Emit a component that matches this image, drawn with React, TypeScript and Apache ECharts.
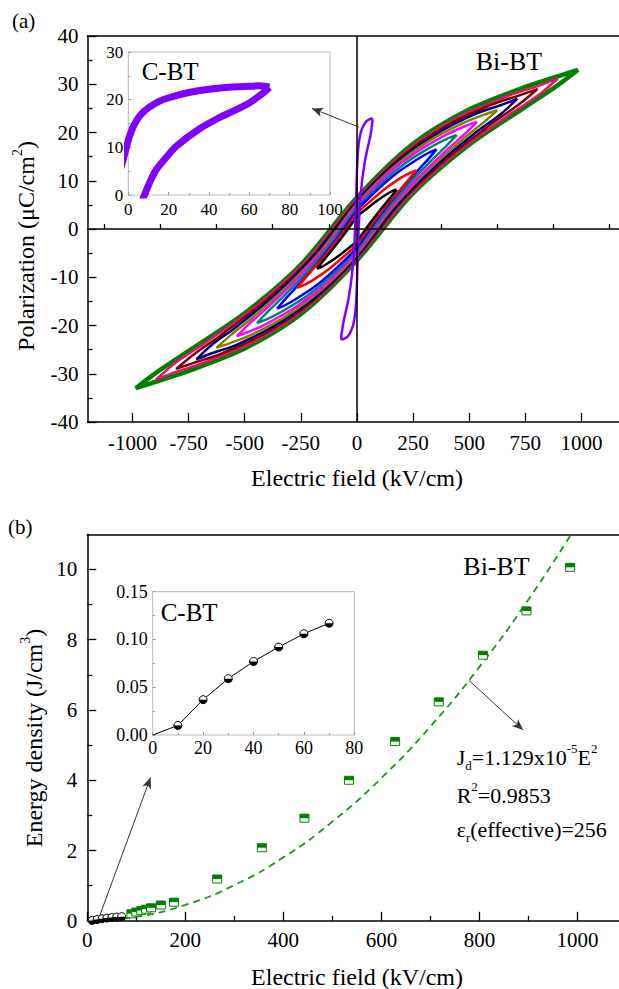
import React, { useEffect, useRef } from "react";
import * as echarts from "echarts";

const FONT = '"Liberation Serif", "Times New Roman", serif';

// ---------- Panel (a): P-E loops (E in kV/cm, P in uC/cm2) ----------
const A_X_TICKS = [-1000, -750, -500, -250, 0, 250, 500, 750, 1000];
const A_X_MINOR = [-1125, -875, -625, -375, -125, 125, 375, 625, 875, 1125];

const LOOP_BLACK: number[][] = [
  [177, 8.2], [159, 7.9], [133, 7.2], [88, 5.8], [44, 4.2], [0, 2.5], [-44, -0.3], [-88, -3.0], [-133, -5.6], [-159, -7.1], [-177, -8.2],
  [-159, -7.9], [-133, -7.2], [-88, -5.8], [-44, -4.2], [0, -2.5], [44, 0.3], [88, 3.0], [133, 5.6], [159, 7.1], [177, 8.2],
];
const LOOP_RED: number[][] = [
  [265, 12.2], [239, 11.7], [199, 10.7], [133, 8.6], [66, 6.0], [0, 3.2], [-66, -1.0], [-133, -5.0], [-199, -8.5], [-239, -10.7], [-265, -12.2],
  [-239, -11.7], [-199, -10.7], [-133, -8.6], [-66, -6.0], [0, -3.2], [66, 1.0], [133, 5.0], [199, 8.5], [239, 10.7], [265, 12.2],
];
const LOOP_BLUE: number[][] = [
  [355, 16.5], [320, 15.8], [266, 14.35], [178, 11.6], [89, 8.0], [0, 3.8], [-89, -2.0], [-178, -7.2], [-266, -11.85], [-320, -14.6], [-355, -16.5],
  [-320, -15.8], [-266, -14.35], [-178, -11.6], [-89, -8.0], [0, -3.8], [89, 2.0], [178, 7.2], [266, 11.85], [320, 14.6], [355, 16.5],
];
const LOOP_TEAL: number[][] = [
  [445, 19.5], [400, 18.7], [334, 17.1], [223, 13.9], [111, 9.6], [0, 4.3], [-111, -2.7], [-223, -8.9], [-334, -14.3], [-400, -17.3], [-445, -19.5],
  [-400, -18.7], [-334, -17.1], [-223, -13.9], [-111, -9.6], [0, -4.3], [111, 2.7], [223, 8.9], [334, 14.3], [400, 17.3], [445, 19.5],
];
const LOOP_MAGENTA: number[][] = [
  [535, 22.2], [481, 21.3], [401, 19.6], [268, 16.0], [134, 11.2], [0, 4.8], [-134, -3.5], [-268, -10.4], [-401, -16.4], [-481, -19.7], [-535, -22.2],
  [-481, -21.3], [-401, -19.6], [-268, -16.0], [-134, -11.2], [0, -4.8], [134, 3.5], [268, 10.4], [401, 16.4], [481, 19.7], [535, 22.2],
];
const LOOP_OLIVE: number[][] = [
  [625, 24.6], [562, 23.6], [469, 21.9], [313, 18.0], [156, 12.5], [0, 5.2], [-156, -4.3], [-313, -12.0], [-469, -18.5], [-562, -22.0], [-625, -24.6],
  [-562, -23.6], [-469, -21.9], [-313, -18.0], [-156, -12.5], [0, -5.2], [156, 4.3], [313, 12.0], [469, 18.5], [562, 22.0], [625, 24.6],
];
const LOOP_NAVY: number[][] = [
  [715, 27], [643, 25.7], [536, 24.0], [358, 19.8], [179, 13.85], [0, 5.6], [-179, -4.95], [-358, -13.4], [-536, -20.25], [-643, -23.9], [-715, -27],
  [-643, -25.7], [-536, -24.0], [-358, -19.8], [-179, -13.85], [0, -5.6], [179, 4.95], [358, 13.4], [536, 20.25], [643, 23.9], [715, 27],
];
const LOOP_WINE: number[][] = [
  [805, 29], [724, 27.7], [604, 25.85], [403, 21.5], [201, 15.1], [0, 5.9], [-201, -5.8], [-403, -14.7], [-604, -21.95], [-724, -25.9], [-805, -29],
  [-724, -27.7], [-604, -25.85], [-403, -21.5], [-201, -15.1], [0, -5.9], [201, 5.8], [403, 14.7], [604, 21.95], [724, 25.9], [805, 29],
];
const LOOP_PINK: number[][] = [
  [895, 31.2], [805, 29.6], [671, 27.55], [448, 23.1], [224, 16.3], [0, 6.2], [-224, -6.5], [-448, -15.95], [-671, -23.45], [-805, -27.6], [-895, -31.2],
  [-805, -29.6], [-671, -27.55], [-448, -23.1], [-224, -16.3], [0, -6.2], [224, 6.5], [448, 15.95], [671, 23.45], [805, 27.6], [895, 31.2],
];
const LOOP_GREEN: number[][] = [
  [985, 33], [886, 31.5], [739, 29.25], [493, 24.6], [246, 17.5], [0, 6.5], [-246, -7.2], [-493, -17.2], [-739, -24.95], [-886, -29.5], [-985, -33],
  [-886, -31.5], [-739, -29.25], [-493, -24.6], [-246, -17.5], [0, -6.5], [246, 7.2], [493, 17.2], [739, 24.95], [886, 29.5], [985, 33],
];

const BIBT_LOOPS = [
  { data: LOOP_GREEN, color: "#008000", width: 4.5 },
  { data: LOOP_PINK, color: "#e8106e", width: 2.5 },
  { data: LOOP_WINE, color: "#800000", width: 2.5 },
  { data: LOOP_NAVY, color: "#000080", width: 2.5 },
  { data: LOOP_OLIVE, color: "#808000", width: 2.5 },
  { data: LOOP_MAGENTA, color: "#ff00ff", width: 2.5 },
  { data: LOOP_TEAL, color: "#008080", width: 2.5 },
  { data: LOOP_BLUE, color: "#0000ff", width: 2.5 },
  { data: LOOP_RED, color: "#ff0000", width: 2.5 },
  { data: LOOP_BLACK, color: "#000000", width: 2.5 },
];

const CBT_LOOP: number[][] = [
  [70, 22.6], [65, 22.9], [60, 22.8], [50, 22.6], [40, 22.2], [30, 21.5], [20, 20.4], [15, 19.6], [10, 18.3],
  [6, 16.8], [3, 14.8], [1, 12.8], [0, 11.5], [-2, 8.3], [-4, 5.2], [-6, 2.4], [-8, 0], [-11, -3], [-14, -5.4],
  [-19, -8], [-24, -10.3], [-35, -13.8], [-45, -16.2], [-52, -17.6], [-60, -19.3], [-65, -20.8], [-70, -22.6],
  [-65, -22.9], [-60, -22.8], [-50, -22.6], [-40, -22.2], [-30, -21.5], [-20, -20.4], [-15, -19.6], [-10, -18.3],
  [-6, -16.8], [-3, -14.8], [-1, -12.8], [0, -11.5], [2, -8.3], [4, -5.2], [6, -2.4], [8, 0], [11, 3], [14, 5.4],
  [19, 8], [24, 10.3], [35, 13.8], [45, 16.2], [52, 17.6], [60, 19.3], [65, 20.8], [70, 22.6],
];

// ---------- Panel (b): energy density ----------
const B_X_TICKS = [0, 200, 400, 600, 800, 1000];
const B_X_MINOR = [100, 300, 500, 700, 900];
const B_Y_TICKS = [0, 2, 4, 6, 8, 10];
const B_Y_MINOR = [1, 3, 5, 7, 9];

const BIBT_E = [90, 100, 110, 120, 130, 150, 177, 265, 356, 443, 534, 628, 717, 807, 896, 985];
const BIBT_J = [0.2, 0.25, 0.29, 0.33, 0.37, 0.45, 0.53, 1.19, 2.08, 2.92, 4.0, 5.1, 6.23, 7.56, 8.82, 10.06];

const CBT_E = [10, 20, 30, 40, 50, 60, 70];
const CBT_J = [0.01, 0.037, 0.059, 0.077, 0.092, 0.106, 0.117];

const FIT_E = [0, 100, 200, 300, 400, 500, 600, 700, 800, 900, 987];
const FIT_J = [0, 0.113, 0.452, 1.016, 1.806, 2.823, 4.064, 5.532, 7.226, 9.145, 11.0];

const pairs = (xs: number[], ys: number[]) => xs.map((x, i) => [x, ys[i]]);

const halfCircle = (r: number) => (params: any, api: any) => {
  const p = api.coord([api.value(0), api.value(1)]);
  return {
    type: "group",
    children: [
      { type: "circle", shape: { cx: p[0], cy: p[1], r }, style: { fill: "#fff", stroke: "#000", lineWidth: 1 } },
      { type: "sector", shape: { cx: p[0], cy: p[1], r0: 0, r, startAngle: 0, endAngle: Math.PI }, style: { fill: "#000" } },
    ],
  };
};

const halfSquare = (w: number, h: number, color: string) => (params: any, api: any) => {
  const p = api.coord([api.value(0), api.value(1)]);
  return {
    type: "group",
    children: [
      { type: "rect", shape: { x: p[0] - w / 2, y: p[1] - h / 2, width: w, height: h }, style: { fill: "#fff", stroke: color, lineWidth: 1 } },
      { type: "rect", shape: { x: p[0] - w / 2, y: p[1] - h / 2, width: w, height: h / 2 }, style: { fill: color } },
    ],
  };
};

const plain = (v: number) => String(v);
const mainLabel = (margin: number) => ({ color: "#000", fontSize: 21, fontFamily: FONT, margin, formatter: plain });
const insetLabel = (size: number, margin: number) => ({ color: "#000", fontSize: size, fontFamily: FONT, margin, formatter: plain });
const blackLine = { show: true, onZero: false, lineStyle: { color: "#000", width: 1.5 } };

export default function App() {
  const ref = useRef<HTMLDivElement>(null);
  useEffect(() => {
    if (!ref.current) return;
    const chart = echarts.init(ref.current, undefined, { renderer: "svg", width: 619, height: 989 });

    const grids = [
      { left: 87.5, top: 36, width: 531.5, height: 386, outerBoundsMode: "none", containLabel: false },
      { left: 128.3, top: 52, width: 201.7, height: 143, show: true, backgroundColor: "#fff", borderColor: "#b8b8b8", borderWidth: 1, outerBoundsMode: "none", containLabel: false },
      { left: 87.3, top: 534.3, width: 531.7, height: 386.5, outerBoundsMode: "none", containLabel: false },
      { left: 152.7, top: 591.7, width: 201.6, height: 143.3, show: true, backgroundColor: "#fff", borderColor: "#b8b8b8", borderWidth: 1, outerBoundsMode: "none", containLabel: false },
    ];

    const insetTick = { show: true, inside: true, length: 3, lineStyle: { color: "#999" } };
    const insetMinor = { show: true, splitNumber: 2, length: 2, lineStyle: { color: "#999" } };

    const xAxis: any[] = [
      {
        type: "value", gridIndex: 0, position: "bottom", min: -1200, max: 1167.5,
        axisLine: blackLine, splitLine: { show: false },
        axisTick: { show: true, inside: true, length: 9, customValues: A_X_TICKS, lineStyle: { color: "#000", width: 1.3 } },
        axisLabel: { ...mainLabel(10), customValues: A_X_TICKS },
      },
      {
        type: "value", gridIndex: 0, position: "bottom", min: -1200, max: 1167.5,
        axisLine: { show: false }, splitLine: { show: false }, axisLabel: { show: false },
        axisTick: { show: true, inside: true, length: 5, customValues: A_X_MINOR, lineStyle: { color: "#000", width: 1.3 } },
      },
      {
        type: "value", gridIndex: 0, position: "top", min: -1200, max: 1167.5,
        axisLine: blackLine, splitLine: { show: false }, axisLabel: { show: false }, axisTick: { show: false },
      },
      {
        type: "value", gridIndex: 1, position: "bottom", min: 0, max: 100, interval: 20,
        axisLine: { show: false, onZero: false }, splitLine: { show: false },
        axisTick: insetTick, minorTick: insetMinor, axisLabel: insetLabel(17, 6),
      },
      {
        type: "value", gridIndex: 2, position: "bottom", min: 0, max: 1084.7,
        axisLine: blackLine, splitLine: { show: false },
        axisTick: { show: true, inside: true, length: 9, customValues: B_X_TICKS, lineStyle: { color: "#000", width: 1.3 } },
        axisLabel: { ...mainLabel(9), customValues: B_X_TICKS },
      },
      {
        type: "value", gridIndex: 2, position: "bottom", min: 0, max: 1084.7,
        axisLine: { show: false }, splitLine: { show: false }, axisLabel: { show: false },
        axisTick: { show: true, inside: true, length: 5, customValues: B_X_MINOR, lineStyle: { color: "#000", width: 1.3 } },
      },
      {
        type: "value", gridIndex: 2, position: "top", min: 0, max: 1084.7,
        axisLine: blackLine, splitLine: { show: false }, axisLabel: { show: false }, axisTick: { show: false },
      },
      {
        type: "value", gridIndex: 3, position: "bottom", min: 0, max: 80, interval: 20,
        axisLine: { show: false, onZero: false }, splitLine: { show: false },
        axisTick: insetTick, minorTick: insetMinor, axisLabel: insetLabel(18, 4),
      },
    ];

    const yAxis: any[] = [
      {
        type: "value", gridIndex: 0, position: "left", min: -40, max: 40, interval: 10,
        axisLine: blackLine, splitLine: { show: false },
        axisTick: { show: true, inside: true, length: 9, lineStyle: { color: "#000", width: 1.3 } },
        minorTick: { show: true, splitNumber: 2, length: 5, lineStyle: { color: "#000", width: 1.3 } },
        axisLabel: mainLabel(9),
      },
      {
        type: "value", gridIndex: 1, position: "left", min: 0, max: 30, interval: 10,
        axisLine: { show: false, onZero: false }, splitLine: { show: false },
        axisTick: insetTick, minorTick: insetMinor, axisLabel: insetLabel(17, 5),
      },
      {
        type: "value", gridIndex: 2, position: "left", min: 0, max: 11,
        axisLine: blackLine, splitLine: { show: false },
        axisTick: { show: true, inside: true, length: 9, customValues: B_Y_TICKS, lineStyle: { color: "#000", width: 1.3 } },
        axisLabel: { ...mainLabel(10), customValues: B_Y_TICKS },
      },
      {
        type: "value", gridIndex: 2, position: "left", min: 0, max: 11,
        axisLine: { show: false }, splitLine: { show: false }, axisLabel: { show: false },
        axisTick: { show: true, inside: true, length: 5, customValues: B_Y_MINOR, lineStyle: { color: "#000", width: 1.3 } },
      },
      {
        type: "value", gridIndex: 3, position: "left", min: 0, max: 0.15, interval: 0.05,
        axisLine: { show: false, onZero: false }, splitLine: { show: false },
        axisTick: insetTick, minorTick: insetMinor,
        axisLabel: { ...insetLabel(18, 5), formatter: (v: number) => v.toFixed(2) },
      },
    ];

    const series: any[] = [];

    BIBT_LOOPS.forEach((l, i) => {
      const s: any = {
        type: "line", xAxisIndex: 0, yAxisIndex: 0, data: l.data, smooth: 0.3,
        symbol: "none", lineStyle: { color: l.color, width: l.width }, z: 2 + i * 0.01,
        silent: true,
      };
      if (i === 0) {
        s.markLine = {
          silent: true, symbol: ["none", "none"], label: { show: false },
          lineStyle: { color: "#000", width: 1.5, type: "solid" },
          data: [{ xAxis: 0 }, { yAxis: 0 }],
        };
      }
      series.push(s);
    });

    series.push({
      type: "line", xAxisIndex: 0, yAxisIndex: 0, data: CBT_LOOP, smooth: 0.3,
      symbol: "none", lineStyle: { color: "#8000ff", width: 2.5 }, z: 4, silent: true,
      markLine: {
        silent: true, symbol: ["none", "arrow"], symbolSize: [7, 11], label: { show: false },
        lineStyle: { color: "#333", width: 1, type: "solid" },
        data: [[{ coord: [10, 21.1] }, { coord: [-200, 25] }]],
      },
    });

    series.push({
      type: "line", xAxisIndex: 3, yAxisIndex: 1, data: CBT_LOOP, smooth: 0.3, clip: true,
      symbol: "none", lineStyle: { color: "#8000ff", width: 7 }, z: 4, silent: true,
    });

    series.push({
      type: "line", xAxisIndex: 4, yAxisIndex: 2, data: pairs(FIT_E, FIT_J), smooth: true,
      symbol: "none", lineStyle: { color: "#1f951f", width: 1.8, type: [7, 5] }, z: 2, silent: true,
      markLine: {
        silent: true, symbol: ["none", "arrow"], symbolSize: [7, 11], label: { show: false },
        lineStyle: { color: "#333", width: 1, type: "solid" },
        data: [
          [{ coord: [26, 0.17] }, { coord: [129, 4.08] }],
          [{ coord: [778, 6.85] }, { coord: [889, 5.43] }],
        ],
      },
    });
    series.push({
      type: "line", xAxisIndex: 4, yAxisIndex: 2, data: pairs(CBT_E, CBT_J),
      symbol: "none", lineStyle: { color: "#000", width: 1 }, z: 3, silent: true,
    });
    series.push({
      type: "custom", xAxisIndex: 4, yAxisIndex: 2, data: pairs(CBT_E, CBT_J),
      encode: { x: 0, y: 1 }, renderItem: halfCircle(4), z: 4, silent: true,
    });
    series.push({
      type: "custom", xAxisIndex: 4, yAxisIndex: 2, data: pairs(BIBT_E, BIBT_J),
      encode: { x: 0, y: 1 }, renderItem: halfSquare(9, 8, "#008000"), z: 5, silent: true,
    });
    series.push({
      type: "line", xAxisIndex: 7, yAxisIndex: 4, data: [[0, 0], ...pairs(CBT_E, CBT_J)],
      symbol: "none", lineStyle: { color: "#000", width: 1 }, z: 3, silent: true,
    });
    series.push({
      type: "custom", xAxisIndex: 7, yAxisIndex: 4, data: pairs(CBT_E, CBT_J),
      encode: { x: 0, y: 1 }, renderItem: halfCircle(4), z: 4, silent: true,
    });

    const txt = (x: number, y: number, text: string, size: number, align = "left", extra: any = {}) => ({
      type: "text", x, y, z: 100,
      style: { text, fill: "#000", fontSize: size, fontFamily: FONT, align, verticalAlign: "middle", ...extra },
    });
    const richBase = (size: number) => ({
      n: { fontSize: size, fontFamily: FONT, fill: "#000", lineHeight: size + 8 },
      sup: { fontSize: Math.round(size * 0.6), fontFamily: FONT, fill: "#000", lineHeight: Math.round(size * 0.6), verticalAlign: "top" },
      sub: { fontSize: Math.round(size * 0.6), fontFamily: FONT, fill: "#000", lineHeight: Math.round(size * 0.6), verticalAlign: "bottom" },
    });

    const graphic: any[] = [
      txt(12, 21, "(a)", 21),
      txt(8, 527, "(b)", 21),
      txt(509, 61, "Bi-BT", 26, "center"),
      txt(141.7, 71.5, "C-BT", 25),
      txt(463.3, 566.7, "Bi-BT", 26),
      txt(160.7, 612, "C-BT", 25),
      txt(357, 478, "Electric field (kV/cm)", 24, "center"),
      txt(357, 977, "Electric field (kV/cm)", 24, "center"),
      {
        type: "text", x: 26, y: 246, rotation: Math.PI / 2, z: 100,
        style: { text: "{n|Polarization (μC/cm}{sup|2}{n|)}", rich: richBase(24), align: "center", verticalAlign: "middle" },
      },
      {
        type: "text", x: 34, y: 738, rotation: Math.PI / 2, z: 100,
        style: { text: "{n|Energy density (J/cm}{sup|3}{n|)}", rich: richBase(24), align: "center", verticalAlign: "middle" },
      },
      {
        type: "text", x: 456.7, y: 757, z: 100,
        style: { text: "{n|J}{sub|d}{n|=1.129x10}{sup|-5}{n|E}{sup|2}", rich: richBase(22), align: "left", verticalAlign: "middle" },
      },
      {
        type: "text", x: 456.7, y: 795, z: 100,
        style: { text: "{n|R}{sup|2}{n|=0.9853}", rich: richBase(22), align: "left", verticalAlign: "middle" },
      },
      {
        type: "text", x: 456.7, y: 829, z: 100,
        style: { text: "{n|ε}{sub|r}{n|(effective)=256}", rich: richBase(22), align: "left", verticalAlign: "middle" },
      },
    ];

    chart.setOption({
      animation: false,
      backgroundColor: "#fff",
      textStyle: { fontFamily: FONT },
      grid: grids,
      xAxis,
      yAxis,
      series,
      graphic,
    });
    return () => chart.dispose();
  }, []);

  return <div ref={ref} style={{ position: "fixed", left: 0, top: 0, width: 619, height: 989, background: "#fff" }} />;
}
